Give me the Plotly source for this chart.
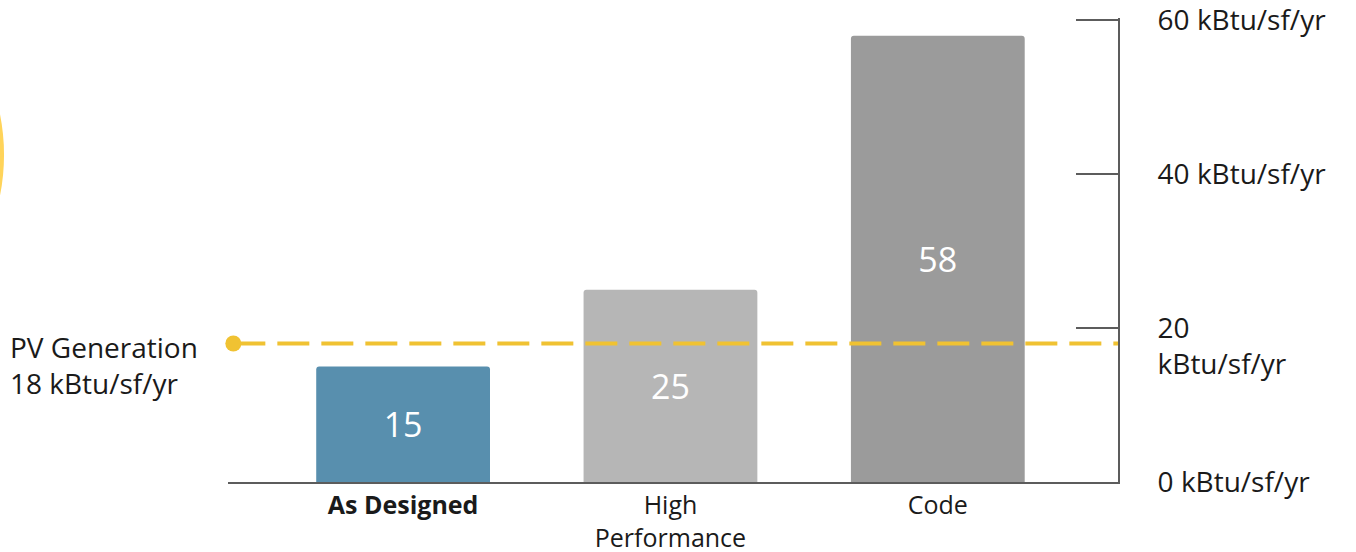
import plotly.graph_objects as go

# data
categories = ["As Designed", "High Performance", "Code"]
category_labels = ["<b>As Designed</b>", "High<br>Performance", "Code"]
eui_values = [15, 25, 58]
bar_colors = ["#588fae", "#b6b6b6", "#9b9b9b"]
pv_generation = 18
pv_label = "PV Generation<br>18 kBtu/sf/yr"
y_tick_values = [0, 20, 40, 60]
y_tick_labels = ["0 kBtu/sf/yr", "&nbsp;<br>20<br>kBtu/sf/yr", "40 kBtu/sf/yr", "60 kBtu/sf/yr"]

FONT = "Open Sans"
AXIS_GREY = "#5c5c5c"
PV_YELLOW = "#f0c232"
TEXT = "#1a1a1a"

fig = go.Figure()

fig.add_trace(go.Bar(
    x=categories,
    y=eui_values,
    width=0.65,
    marker=dict(color=bar_colors, cornerradius=3, line=dict(width=0)),
    text=[str(v) for v in eui_values],
    textposition="inside",
    insidetextanchor="middle",
    textfont=dict(family=FONT, size=34, color="white"),
    hoverinfo="x+y",
    showlegend=False,
))

# PV generation reference line
fig.add_shape(
    type="line", xref="paper", yref="y",
    x0=0.006, x1=1, y0=pv_generation, y1=pv_generation,
    line=dict(color=PV_YELLOW, width=4, dash="32px,12px"),
    layer="above",
)
fig.add_shape(
    type="circle", xref="paper", yref="y",
    xsizemode="pixel", ysizemode="pixel",
    xanchor=0.006, yanchor=pv_generation,
    x0=-8, x1=8, y0=-8, y1=8,
    fillcolor=PV_YELLOW, line=dict(width=0),
    layer="above",
)
fig.add_annotation(
    xref="paper", yref="y", x=-0.247, y=pv_generation,
    xanchor="left", yanchor="top", yshift=17,
    text=pv_label, showarrow=False, align="left",
    font=dict(family=FONT, size=28, color=TEXT),
)

# decorative arc cut off at the left edge
fig.add_shape(
    type="circle", xref="paper", yref="paper",
    x0=-0.7056, x1=-0.2539, y0=0.27, y1=1.14,
    line=dict(color="#ffd45a", width=4),
    layer="below",
)

fig.update_layout(
    width=1356, height=552,
    margin=dict(l=228, r=238, t=18, b=70),
    plot_bgcolor="white", paper_bgcolor="white",
    font=dict(family=FONT, size=25, color=TEXT),
    bargap=0.35,
    xaxis=dict(
        range=[-0.655, 2.674], automargin=False,
        tickmode="array", tickvals=categories, ticktext=category_labels,
        showline=True, linecolor=AXIS_GREY, linewidth=2,
        showgrid=False, zeroline=False, ticks="",
        tickfont=dict(family=FONT, size=25, color=TEXT),
    ),
    yaxis=dict(
        range=[0, 60.3], side="right", automargin=False,
        tickmode="array", tickvals=y_tick_values, ticktext=y_tick_labels,
        showline=True, linecolor=AXIS_GREY, linewidth=2,
        ticks="inside", ticklen=42, tickwidth=2, tickcolor=AXIS_GREY,
        ticklabelstandoff=32, ticklabeloverflow="allow",
        showgrid=False, zeroline=False,
        tickfont=dict(family=FONT, size=28, color=TEXT),
    ),
)

fig.write_html(
    "out.html",
    config={"displayModeBar": False},
    post_script="document.body.style.margin = '0';",
)
